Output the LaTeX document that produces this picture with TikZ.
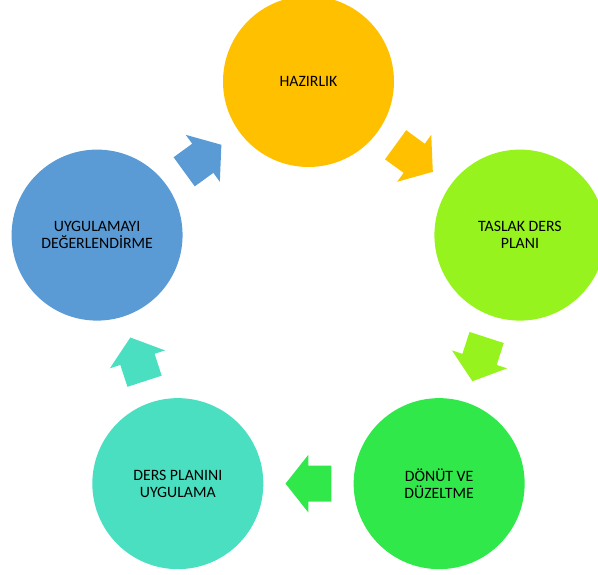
\documentclass[tikz,border=0pt]{standalone}
\usepackage{fontspec}
\setmainfont{Carlito}
\usetikzlibrary{calc}
\definecolor{sari}{HTML}{FFC000}
\definecolor{acikyesil}{HTML}{97F31D}
\definecolor{yesil}{HTML}{31E84B}
\definecolor{turkuaz}{HTML}{4ADFC1}
\definecolor{mavi}{HTML}{5B9BD5}
\begin{document}
\begin{tikzpicture}[x=1pt,y=1pt,
  stage/.style={circle,minimum size=171pt,inner sep=0pt,align=center,
    font=\fontsize{15.8}{17.4}\selectfont}]
\useasboundingbox (-308.5,-271.2) rectangle (289.5,303.8);
\node[stage,fill=sari] (hazirlik)at(90:222.3){HAZIRLIK};
\node[stage,fill=acikyesil] (taslak)at(18:222.3){TASLAK DERS\\PLANI};
\node[stage,fill=yesil] (donut)at(-54:222.3){DÖNÜT VE\\DÜZELTME};
\node[stage,fill=turkuaz] (uygulama)at(-126:222.3){DERS PLANINI\\UYGULAMA};
\node[stage,fill=mavi] (degerlendirme)at(162:222.3){UYGULAMAYI\\DEĞERLENDİRME};
% block arrows halfway between the circles
\foreach \a/\b/\c in {hazirlik/taslak/sari, taslak/donut/acikyesil, donut/uygulama/yesil,
    uygulama/degerlendirme/turkuaz, degerlendirme/hazirlik/mavi}
  \fill[\c] let \p1=($(\b)-(\a)$), \n1={atan2(\y1,\x1)} in
    [shift={($(\a)!0.5!(\b)$)}, rotate=\n1]
    (-23,-18) -- (0,-18) -- (0,-29) -- (23,0) -- (0,29) -- (0,18) -- (-23,18) -- cycle;
\end{tikzpicture}
\end{document}
